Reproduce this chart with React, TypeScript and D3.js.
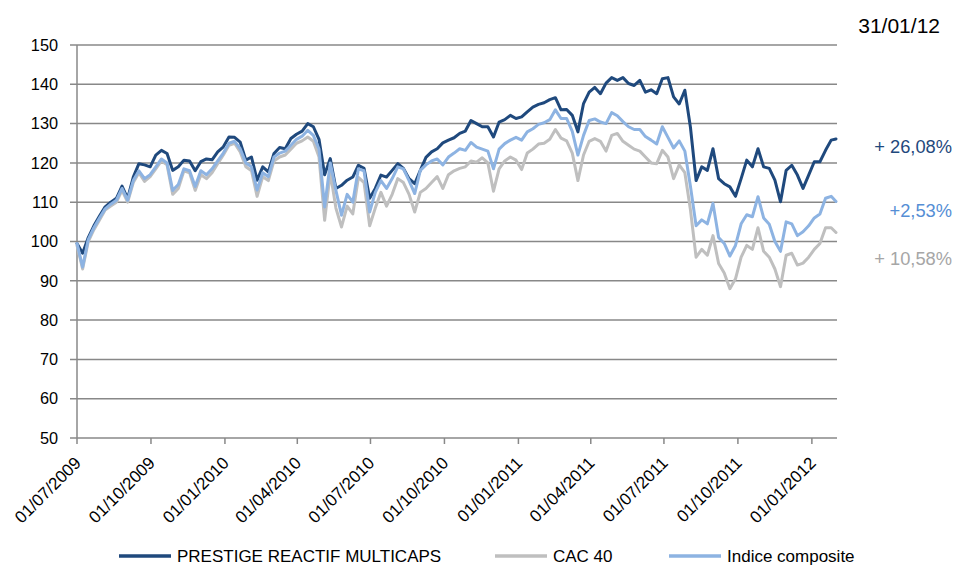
import React from "react";
import * as d3 from "d3";

// ---------- DATA ----------
const startDate = new Date(2009, 6, 1);
const endDate = new Date(2012, 0, 31);
const weeklyPoints = 135;
const dates: Date[] = [
  ...d3.range(weeklyPoints).map((i) => d3.timeDay.offset(startDate, 7 * i)),
  endDate,
];

const seriesNames = ["PRESTIGE REACTIF MULTICAPS", "CAC 40", "Indice composite"];

const prestige = [
  99.5, 97, 101, 104, 106.5, 108.8, 110, 111, 114.1, 111,
  116.4, 119.8, 119.5, 119, 122, 123.2, 122.4, 118.1, 119, 120.7,
  120.5, 118, 120.3, 121, 120.8, 122.8, 124.1, 126.6, 126.5, 125.3,
  120.7, 121.5, 115.6, 119, 117.7, 122.4, 123.9, 123.6, 126.2, 127.3,
  128.1, 130, 129.2, 126, 117, 121.1, 113.5, 114.3, 115.6, 116.4,
  119.4, 118.6, 111, 113.5, 116.9, 116.4, 118.1, 119.8, 118.6, 116,
  114.7, 118.1, 121.4, 122.8, 123.6, 125.1, 125.8, 126.4, 127.5, 128.1,
  130.8, 130, 129.2, 129.2, 126.6, 130.4, 131, 132.1, 131.3, 131.7,
  133, 134.2, 134.9, 135.3, 136.1, 136.6, 133.5, 133.6, 132.1, 127.9,
  135.1, 138, 139.2, 137.6, 140.3, 141.7, 141, 141.7, 140.2, 139.7,
  141, 138, 138.6, 137.6, 141.4, 141.7, 136.8, 135, 138.5, 129,
  115.5, 119, 118.1, 123.6, 116, 114.7, 113.9, 111.5, 116, 120.7,
  119, 123.6, 119, 118.6, 115.6, 110.1, 118.1, 119.4, 116.9, 113.5,
  116.9, 120.3, 120.3, 123.2, 125.8, 126.1,
];

const cac40 = [
  99, 93, 100, 103, 105.5, 108, 109, 110, 113, 110,
  115, 117.5, 115.3, 116.5, 118.5, 120.5, 119.5, 112, 113.5, 118,
  117.5, 113, 117, 116, 117.5, 119.8, 122, 124.5, 125, 122.8,
  119, 118, 111.5, 116.5, 115.5, 120.5, 121.5, 122, 123.5, 125,
  125.6, 126.6, 125.5, 121.5, 105.4, 117.5, 108.5, 103.7, 109, 107,
  116.3, 115, 104, 108.5, 112.5, 109, 112, 116, 115, 112,
  107.5, 112.5, 113.5, 115, 116.5, 113.5, 117, 118, 118.6, 119,
  120.5, 120.2, 121.3, 120, 112.8, 118.5, 120.5, 121.5, 120.7, 118.3,
  122.5, 123.5, 124.8, 125, 126, 128.5, 126.3, 125.6, 122.5, 115.5,
  122, 125.5, 126.2, 125.5, 123, 127, 127.5, 125.5, 124.5, 123.5,
  123, 121.5, 120, 119.8, 123.2, 121.5, 116, 119.5, 117.5, 108,
  96, 98, 96.5, 101.5, 94.4, 92, 88, 90.5, 96, 99,
  98, 103.5, 97.5, 96, 93, 88.5, 96.5, 97, 94, 94.5,
  96, 98, 99.5, 103.5, 103.5, 102.3,
];

const composite = [
  99.5, 93.5, 100.5, 103.5, 106, 108.3, 109.5, 110.5, 113.5, 110.5,
  115.5, 118, 116, 117, 119, 121, 120, 113, 114.5, 118.5,
  118, 114, 118, 117, 118.5, 120.5, 122.5, 125, 125.5, 123.6,
  120, 119, 113.1, 117.5, 116.5, 121.5, 122.5, 123, 124.5, 126,
  126.8, 128.3, 127, 123.5, 108.8, 120, 113, 106.7, 112, 110,
  118.5, 118, 107.5, 112.5, 115.5, 113.5, 116, 119, 118.5, 115.5,
  112.2, 118.1, 119.5, 120.5, 121, 119.5, 121.5, 122.5, 123.6, 123.2,
  125.2, 124, 123.5, 123, 118.5, 123.5, 124.9, 125.8, 126.5, 125.8,
  127.9, 128.7, 129.8, 130.2, 131, 133.5, 131.3, 131.3, 128, 122,
  127, 130.8, 131.2, 130.4, 130, 132.8, 132, 130.5, 129.2, 128.5,
  128.5, 126.7, 125.8, 124.8, 129.2, 126.5, 123.8, 125.6, 123, 114,
  104, 105.5, 104.5, 109.7, 101, 99.5, 96.3, 99, 104.5, 106.8,
  106.3, 111.4, 106, 104.4, 100, 97.5, 105, 104.5, 101.5, 102.5,
  104, 106, 107, 111, 111.5, 110.2,
];

const seriesValues = [prestige, cac40, composite];
const seriesColors = ["#1F497D", "#BFBFBF", "#8DB3E2"];

const yDomain = [50, 150];
const yTickValues = [50, 60, 70, 80, 90, 100, 110, 120, 130, 140, 150];
const xTickDates = d3.timeMonth.range(new Date(2009, 6, 1), new Date(2012, 0, 2), 3);

const endDateLabel = "31/01/12";
const perfLabels = ["+ 26,08%", "+ 10,58%", "+2,53%"];
const perfColors = ["#1F497D", "#A6A6A6", "#558ED5"];

// ---------- CHART ----------
const W = 953;
const H = 567;
const plot = { left: 77, right: 836, top: 45, bottom: 438 };
const FONT = "'Liberation Sans', Arial, sans-serif";

export default function App() {
  const x = d3.scaleTime().domain([startDate, endDate]).range([plot.left, plot.right]);
  const y = d3.scaleLinear().domain(yDomain).range([plot.bottom, plot.top]);
  const fmt = d3.timeFormat("%d/%m/%Y");

  const lineGen = (vals: number[]) =>
    d3
      .line<number>()
      .x((_, i) => x(dates[i]))
      .y((v) => y(v))(vals) as string;

  const gridColor = "#888888";
  const legendX = [119, 495, 669];
  const legendTextY = 562;
  const perfY = [153, 265, 217];

  return (
    <svg
      width={W}
      height={H}
      viewBox={`0 0 ${W} ${H}`}
      style={{ position: "absolute", left: 0, top: 0, display: "block", background: "#fff" }}
      fontFamily={FONT}
    >
      <rect x={0} y={0} width={W} height={H} fill="#ffffff" />
      {/* horizontal gridlines and y ticks */}
      {yTickValues.map((t) => (
        <g key={t}>
          <line
            x1={plot.left - 7}
            x2={plot.right + 1}
            y1={y(t)}
            y2={y(t)}
            stroke={gridColor}
            strokeWidth={1.5}
          />
          <text x={58} y={y(t)} dy="0.35em" textAnchor="end" fontSize={16.3} fill="#000">
            {t}
          </text>
        </g>
      ))}
      {/* y axis line */}
      <line x1={plot.left} x2={plot.left} y1={plot.top} y2={plot.bottom} stroke={gridColor} strokeWidth={1.5} />
      {/* x axis ticks and labels */}
      {xTickDates.map((d) => {
        const px = x(d);
        return (
          <g key={+d}>
            <line x1={px} x2={px} y1={plot.bottom} y2={plot.bottom + 6} stroke={gridColor} strokeWidth={1.5} />
            <text
              transform={`translate(${px + 5},${plot.bottom + 26}) rotate(-45)`}
              textAnchor="end"
              fontSize={17}
              fill="#000"
            >
              {fmt(d)}
            </text>
          </g>
        );
      })}
      {/* series lines */}
      {seriesValues.map((vals, k) => (
        <path
          key={k}
          d={lineGen(vals)}
          fill="none"
          stroke={seriesColors[k]}
          strokeWidth={3}
          strokeLinejoin="round"
          strokeLinecap="round"
        />
      ))}
      {/* end date label */}
      <text x={940} y={33} textAnchor="end" fontSize={21} fill="#000">
        {endDateLabel}
      </text>
      {/* performance labels */}
      {perfLabels.map((lab, k) => (
        <text key={lab} x={952} y={perfY[k]} textAnchor="end" fontSize={18.3} fill={perfColors[k]}>
          {lab}
        </text>
      ))}
      {/* legend */}
      {seriesNames.map((name, k) => (
        <g key={name}>
          <line
            x1={legendX[k]}
            x2={legendX[k] + 52}
            y1={legendTextY - 6}
            y2={legendTextY - 6}
            stroke={seriesColors[k]}
            strokeWidth={3.5}
          />
          <text x={legendX[k] + 58} y={legendTextY} fontSize={17} fill="#000">
            {name}
          </text>
        </g>
      ))}
    </svg>
  );
}
